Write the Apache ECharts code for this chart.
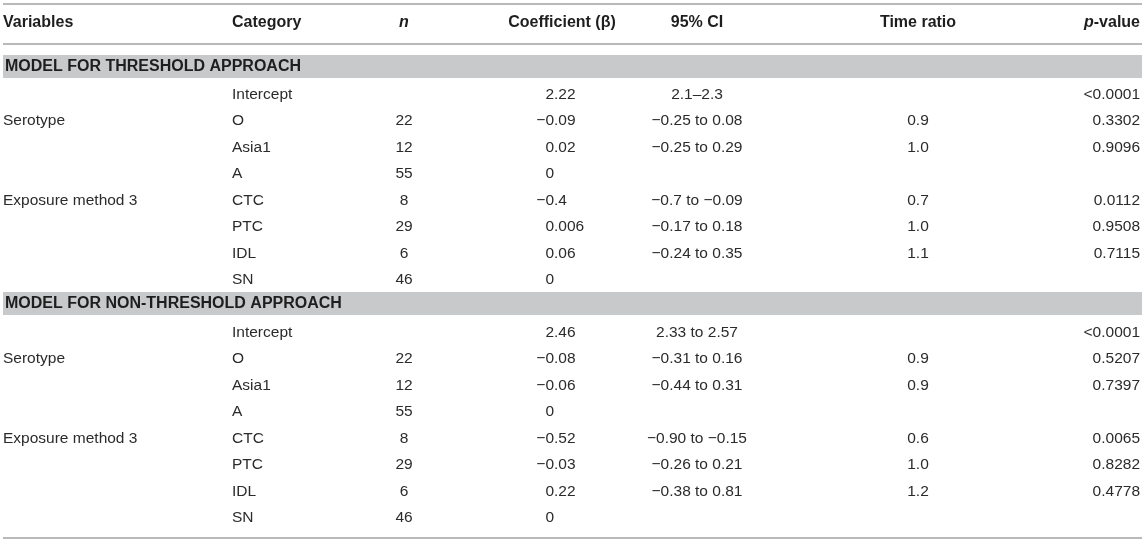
<!DOCTYPE html>
<html>
<head>
<meta charset="utf-8">
<script src="https://cdn.jsdelivr.net/npm/echarts@6/dist/echarts.min.js"></script>
<style>
html, body { margin: 0; padding: 0; background: #fff; }
#main { width: 1145px; height: 542px; }
</style>
</head>
<body>
<div id="main"></div>
<script>
// table content
var headers = ['Variables', 'Category', 'n', 'Coefficient (β)', '95% CI', 'Time ratio', 'p-value'];
var sectionTitles = ['MODEL FOR THRESHOLD APPROACH', 'MODEL FOR NON-THRESHOLD APPROACH'];
var variables = ['', 'Serotype', '', '', 'Exposure method 3', '', '', ''];
var categories = ['Intercept', 'O', 'Asia1', 'A', 'CTC', 'PTC', 'IDL', 'SN'];
var counts = [null, 22, 12, 55, 8, 29, 6, 46];

var coefThreshold = [2.22, -0.09, 0.02, 0, -0.4, 0.006, 0.06, 0];
var ciThreshold = ['2.1–2.3', '−0.25 to 0.08', '−0.25 to 0.29', '', '−0.7 to −0.09', '−0.17 to 0.18', '−0.24 to 0.35', ''];
var ratioThreshold = [null, 0.9, 1.0, null, 0.7, 1.0, 1.1, null];
var pThreshold = ['<0.0001', '0.3302', '0.9096', '', '0.0112', '0.9508', '0.7115', ''];

var coefNonThreshold = [2.46, -0.08, -0.06, 0, -0.52, -0.03, 0.22, 0];
var ciNonThreshold = ['2.33 to 2.57', '−0.31 to 0.16', '−0.44 to 0.31', '', '−0.90 to −0.15', '−0.26 to 0.21', '−0.38 to 0.81', ''];
var ratioNonThreshold = [null, 0.9, 0.9, null, 0.6, 1.0, 1.2, null];
var pNonThreshold = ['<0.0001', '0.5207', '0.7397', '', '0.0065', '0.8282', '0.4778', ''];

// column anchors (px)
var COL_VAR = 3, COL_CAT = 232, COL_N = 404, COL_DEC = 554, COL_CI = 697, COL_TR = 918, COL_P = 1140;
var FONT = '15.5px "Liberation Sans", Arial, Helvetica, sans-serif';
var FONT_B = 'bold 16px "Liberation Sans", Arial, Helvetica, sans-serif';
var TEXT = '#2b2b2b';
var HEAD = '#1e1e1e';
var RULE = '#b9b9b9';
var BAND = '#c8c9cb';

var chart = echarts.init(document.getElementById('main'));

function fmt(v) {
	return String(v).replace('-', '\u2212');
}

function txt(s, x, y, align, font) {
	return {
		type: 'text',
		style: { text: s, x: x, y: y, align: align, verticalAlign: 'middle', fill: TEXT, font: font || FONT }
	};
}

function sectionSeries(idx, coef, ci, ratio, p) {
	return {
		type: 'custom',
		xAxisIndex: idx,
		yAxisIndex: idx,
		silent: true,
		data: categories.map(function (c, i) { return [0, i]; }),
		renderItem: function (params, api) {
			var i = params.dataIndex;
			var y = api.coord([0, i])[1];
			var xs = function (v) { return api.coord([v, i])[0]; };
			var kids = [];
			if (variables[i]) kids.push(txt(variables[i], xs(COL_VAR), y, 'left'));
			kids.push(txt(categories[i], xs(COL_CAT), y, 'left'));
			if (counts[i] != null) kids.push(txt(String(counts[i]), xs(COL_N), y, 'center'));
			// coefficients line up on the decimal point
			var parts = fmt(coef[i]).split('.');
			kids.push(txt(parts[0], xs(COL_DEC), y, 'right'));
			if (parts.length > 1) kids.push(txt('.' + parts[1], xs(COL_DEC), y, 'left'));
			if (ci[i]) kids.push(txt(ci[i], xs(COL_CI), y, 'center'));
			if (ratio[i] != null) kids.push(txt(ratio[i].toFixed(1), xs(COL_TR), y, 'center'));
			if (p[i]) kids.push(txt(p[i], xs(COL_P), y, 'right'));
			return { type: 'group', children: kids };
		}
	};
}

function rule(y) {
	return { type: 'rect', shape: { x: 3, y: y, width: 1139, height: 2 }, style: { fill: RULE }, silent: true };
}

function band(y, title) {
	return [
		{ type: 'rect', shape: { x: 3, y: y, width: 1139, height: 23 }, style: { fill: BAND }, silent: true },
		{ type: 'text', style: { text: title, x: 5, y: y + 12, verticalAlign: 'middle', fill: HEAD, font: FONT_B } }
	];
}

var headAnchors = [[COL_VAR, 'left'], [COL_CAT, 'left'], [COL_N, 'center'], [COL_DEC + 8, 'center'], [COL_CI, 'center'], [COL_TR, 'center'], [COL_P, 'right']];
var graphics = [rule(3), rule(43), rule(537)];
headers.forEach(function (h, k) {
	var style = { text: h, x: headAnchors[k][0], y: 23, align: headAnchors[k][1], verticalAlign: 'middle', fill: HEAD, font: FONT_B };
	if (h === 'n') style.font = 'italic ' + FONT_B;
	if (h === 'p-value') {
		style.text = '{i|p}{b|-value}';
		style.rich = {
			i: { font: 'italic ' + FONT_B, fill: HEAD },
			b: { font: FONT_B, fill: HEAD }
		};
	}
	graphics.push({ type: 'text', style: style });
});
graphics = graphics.concat(band(55, sectionTitles[0]), band(292, sectionTitles[1]));

var option = {
	animation: false,
	grid: [
		{ left: 0, right: 0, top: 81, height: 212 },
		{ left: 0, right: 0, top: 319, height: 212 }
	],
	xAxis: [
		{ type: 'value', gridIndex: 0, min: 0, max: 1145, show: false },
		{ type: 'value', gridIndex: 1, min: 0, max: 1145, show: false }
	],
	yAxis: [
		{ type: 'category', gridIndex: 0, data: categories, inverse: true, show: false },
		{ type: 'category', gridIndex: 1, data: categories, inverse: true, show: false }
	],
	graphic: graphics,
	series: [
		sectionSeries(0, coefThreshold, ciThreshold, ratioThreshold, pThreshold),
		sectionSeries(1, coefNonThreshold, ciNonThreshold, ratioNonThreshold, pNonThreshold)
	]
};

chart.setOption(option);
</script>
</body>
</html>
